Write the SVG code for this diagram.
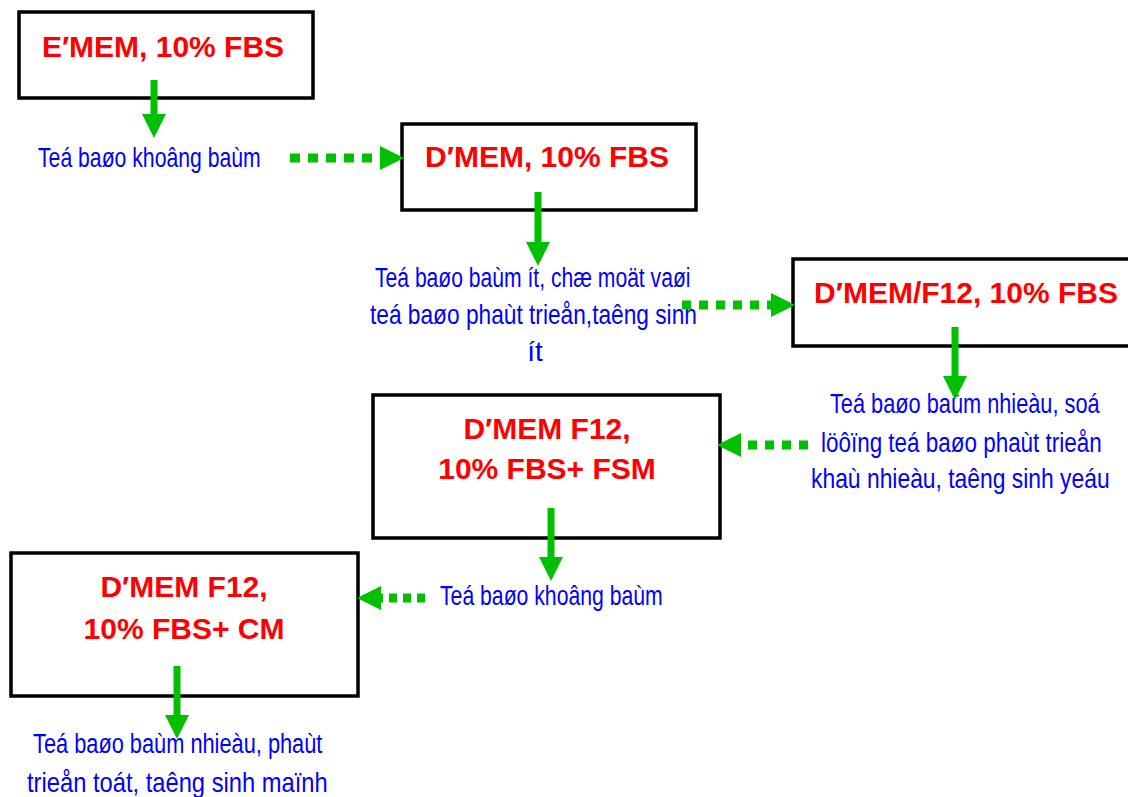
<svg xmlns="http://www.w3.org/2000/svg" width="1128" height="797" viewBox="0 0 1128 797">
<style>
.box{fill:#fff;stroke:#000;stroke-width:3.5}
.title{font-family:"Liberation Sans",Arial,sans-serif;font-weight:bold;font-size:30px;fill:#FF0000;text-anchor:middle}
.lbl{font-family:"Liberation Sans",Arial,sans-serif;font-size:28px;fill:#0000FF}
.solid{stroke:#00C000;stroke-width:7;fill:none}
.dot{stroke:#00C000;stroke-width:9;fill:none;stroke-dasharray:9 8}
</style>
<defs>
<marker id="ah" markerUnits="userSpaceOnUse" markerWidth="24" markerHeight="24" viewBox="0 0 22 22" refX="0" refY="11" orient="auto"><path d="M0,0 L22,11 L0,22 Z" fill="#00C000"/></marker>
</defs>
<rect width="1128" height="797" fill="#fff"/>
<g id="n1"><rect class="box" x="19" y="12" width="294" height="86"/><text class="title" x="163" y="57">E′MEM, 10% FBS</text></g>
<g id="n2"><rect class="box" x="402" y="124" width="294" height="86"/><text class="title" x="547" y="167">D′MEM, 10% FBS</text></g>
<g id="n3"><rect class="box" x="793" y="259" width="340" height="87"/><text class="title" x="966" y="303">D′MEM/F12, 10% FBS</text></g>
<g id="n4"><rect class="box" x="373" y="395" width="347" height="143"/><text class="title" x="547" y="439">D′MEM F12,</text><text class="title" x="547" y="479">10% FBS+ FSM</text></g>
<g id="n5"><rect class="box" x="11" y="553" width="347" height="143"/><text class="title" x="184" y="597">D′MEM F12,</text><text class="title" x="184" y="639">10% FBS+ CM</text></g>
<g id="t1"><text class="lbl" transform="matrix(0.757 0 0 1 38 167)">Teá baøo khoâng baùm</text></g>
<g id="t2"><text class="lbl" transform="matrix(0.754 0 0 1 375 287)">Teá baøo baùm ít, chæ moät vaøi</text><text class="lbl" transform="matrix(0.811 0 0 1 370 324)">teá baøo phaùt trieån,taêng sinh</text><text class="lbl" x="535" y="361" text-anchor="middle">ít</text></g>
<g id="t3"><text class="lbl" transform="matrix(0.777 0 0 1 830 413)">Teá baøo baùm nhieàu, soá</text><text class="lbl" transform="matrix(0.802 0 0 1 821 452)">löôïng teá baøo phaùt trieån</text><text class="lbl" transform="matrix(0.817 0 0 1 811 488)">khaù nhieàu, taêng sinh yeáu</text></g>
<g id="t4"><text class="lbl" transform="matrix(0.757 0 0 1 440 605)">Teá baøo khoâng baùm</text></g>
<g id="t5"><text class="lbl" transform="matrix(0.778 0 0 1 33 753)">Teá baøo baùm nhieàu, phaùt</text><text class="lbl" transform="matrix(0.848 0 0 1 27 792)">trieån toát, taêng sinh maïnh</text></g>
<g id="connectors">
<line class="solid" x1="154" y1="80" x2="154" y2="114" marker-end="url(#ah)"/>
<line class="solid" x1="538" y1="192" x2="538" y2="242" marker-end="url(#ah)"/>
<line class="solid" x1="955" y1="327" x2="955" y2="376" marker-end="url(#ah)"/>
<line class="solid" x1="551" y1="508" x2="551" y2="557" marker-end="url(#ah)"/>
<line class="solid" x1="177" y1="666" x2="177" y2="715" marker-end="url(#ah)"/>
<line class="dot" x1="290" y1="158" x2="380" y2="158" style="stroke-dasharray:10 8" marker-end="url(#ah)"/>
<line class="dot" x1="682" y1="305" x2="771" y2="305" marker-end="url(#ah)"/>
<line class="dot" x1="808" y1="445" x2="741" y2="445" marker-end="url(#ah)"/>
<line class="dot" x1="425" y1="598" x2="381" y2="598" style="stroke-dasharray:8 6" marker-end="url(#ah)"/>
</g>
</svg>
